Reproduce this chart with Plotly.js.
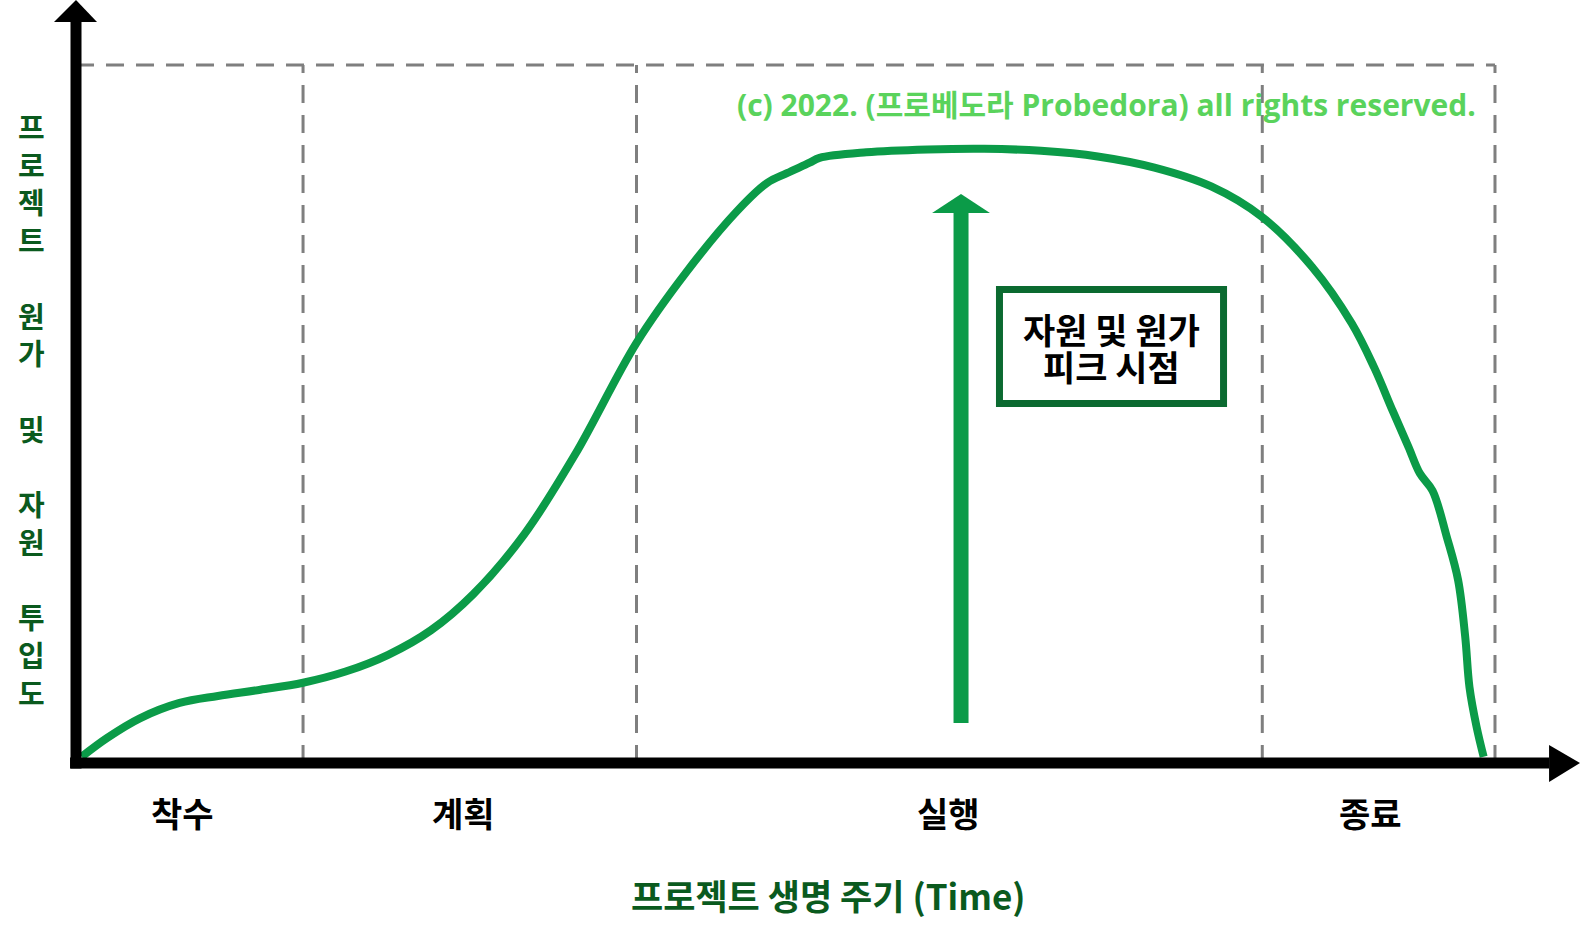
<!DOCTYPE html>
<html>
<head>
<meta charset="utf-8">
<script src="https://cdn.plot.ly/plotly-3.0.1.min.js"></script>
<style>html,body{margin:0;padding:0;background:#fff;}#chart{width:1581px;height:929px;}</style>
</head>
<body>
<div id="chart"></div>
<script>
// ---- data ----
const curveX = [0.4, 2.2, 4.5, 7.3, 10.0, 13.0, 16.0, 19.0, 22.0, 25.0, 28.0, 31.6, 35.2, 39.5, 43.0, 46.6, 48.7, 50.1, 51.7, 52.4, 55.7, 60.0, 64.0, 68.0, 72.0, 76.0, 80.0, 83.6, 87.1, 89.9, 91.5, 92.8, 93.9, 94.7, 95.6, 96.6, 97.4, 97.9, 98.2, 98.7, 99.2];
const curveY = [0.9, 3.6, 6.4, 8.6, 9.6, 10.5, 11.5, 13.1, 15.5, 19.0, 24.2, 32.8, 44.3, 60.2, 70.3, 79.1, 83.1, 84.5, 86.0, 86.7, 87.5, 87.9, 88.0, 87.7, 86.9, 85.3, 82.6, 78.2, 71.1, 63.0, 56.6, 50.4, 45.3, 41.5, 39.0, 32.4, 26.2, 18.1, 10.9, 5.2, 0.9];
const phaseLabels = ['착수', '계획', '실행', '종료'];
const phaseLabelX = [7.5, 27.3, 61.5, 91.2];
const phaseBounds = [16.0, 39.5, 83.6, 100];
const boxTop = 100;
const peakX = 62.37;
const peakArrowFrom = 5.73;
const peakArrowTo = 81.52;
const peakBoxLines = ['자원 및 원가', '피크 시점'];
const yTitleWords = ['프로젝트', '원가', '및', '자원', '투입도'];
const xTitle = '프로젝트 생명 주기 (Time)';
const copyright = '(c) 2022. (프로베도라 Probedora) all rights reserved.';

// ---- styles ----
const GREEN = '#0b9b48';
const DARK = '#0a5a1e';
const DASH = {color: '#7f7f7f', width: 3, dash: '18px,12px'};
const KFONT = "'Noto Sans CJK KR', 'Noto Sans', sans-serif";

const shapes = [];
// dashed frame
shapes.push({type: 'line', xref: 'x', yref: 'y', x0: 0, x1: phaseBounds[phaseBounds.length - 1], y0: boxTop, y1: boxTop, line: DASH, layer: 'below'});
phaseBounds.forEach(b => shapes.push({type: 'line', xref: 'x', yref: 'y', x0: b, x1: b, y0: 0, y1: boxTop, line: DASH, layer: 'below'}));

// axes with arrowheads
shapes.push({type: 'line', xref: 'x', yref: 'y', x0: 0, x1: 0, y0: -0.79, y1: 106.16, line: {color: '#000', width: 11}});
shapes.push({type: 'path', xref: 'x', yref: 'y', path: 'M -1.55 106.16 L 1.48 106.16 L 0 109.31 Z', fillcolor: '#000', line: {width: 0}});
shapes.push({type: 'line', xref: 'x', yref: 'y', x0: -0.42, x1: 103.81, y0: 0, y1: 0, line: {color: '#000', width: 11}});
shapes.push({type: 'path', xref: 'x', yref: 'y', path: 'M 103.81 2.58 L 103.81 -2.72 L 105.99 0 Z', fillcolor: '#000', line: {width: 0}});

// peak arrow
const headBase = peakArrowTo - 2.72;
shapes.push({type: 'line', xref: 'x', yref: 'y', x0: peakX, x1: peakX, y0: peakArrowFrom, y1: headBase + 0.2, line: {color: GREEN, width: 15}});
shapes.push({type: 'path', xref: 'x', yref: 'y',
  path: `M ${peakX - 2.04} ${headBase} L ${peakX + 2.04} ${headBase} L ${peakX} ${peakArrowTo} Z`,
  fillcolor: GREEN, line: {width: 0}});

// peak box
shapes.push({type: 'rect', xref: 'x', yref: 'y', x0: 65.08, x1: 80.87, y0: 51.5, y1: 67.84,
  line: {color: '#0b6a30', width: 7}, fillcolor: '#fff'});

const annotations = [];
annotations.push({xref: 'x', yref: 'y', x: 72.94, y: 62.18, text: peakBoxLines[0], showarrow: false,
  xanchor: 'center', yanchor: 'middle', font: {family: KFONT, size: 35, color: '#000', weight: 700}});
annotations.push({xref: 'x', yref: 'y', x: 72.94, y: 57.02, text: peakBoxLines[1], showarrow: false,
  xanchor: 'center', yanchor: 'middle', font: {family: KFONT, size: 35, color: '#000', weight: 700}});
annotations.push({xref: 'x', yref: 'y', x: 72.62, y: 94.41, text: copyright, showarrow: false,
  xanchor: 'center', yanchor: 'middle', font: {family: "'Open Sans', 'Noto Sans CJK KR', sans-serif", size: 30, color: '#5ad35c', weight: 700}});
phaseLabels.forEach((t, i) => annotations.push({xref: 'x', yref: 'paper', x: phaseLabelX[i], y: -0.0291, text: t, showarrow: false,
  xanchor: 'center', yanchor: 'middle', font: {family: KFONT, size: 34, color: '#000', weight: 700}}));
annotations.push({xref: 'paper', yref: 'paper', x: 0.5114, y: -0.1329, text: xTitle, showarrow: false,
  xanchor: 'center', yanchor: 'middle', font: {family: KFONT, size: 35, color: DARK, weight: 700}});
const yTitleText = yTitleWords.map(w => Array.from(w).join('<br>')).join('<br>\u00a0<br>');
annotations.push({xref: 'paper', yref: 'paper', x: -0.00584, y: 0.4823, text: yTitleText, showarrow: false,
  xanchor: 'center', yanchor: 'middle', align: 'center', font: {family: KFONT, size: 29, color: DARK, weight: 700}});

const trace = {x: curveX, y: curveY, type: 'scatter', mode: 'lines',
  line: {color: GREEN, width: 8, shape: 'spline', smoothing: 1}, hoverinfo: 'skip'};

const layout = {
  width: 1581, height: 929,
  margin: {l: 40, r: 0, t: 0, b: 139, pad: 0},
  paper_bgcolor: '#fff', plot_bgcolor: '#fff',
  showlegend: false,
  xaxis: {range: [-2.537, 106.061], visible: false, fixedrange: true},
  yaxis: {range: [-3.868, 109.312], visible: false, fixedrange: true},
  shapes: shapes,
  annotations: annotations
};
Plotly.newPlot('chart', [trace], layout, {staticPlot: true, displayModeBar: false});
</script>
</body>
</html>
